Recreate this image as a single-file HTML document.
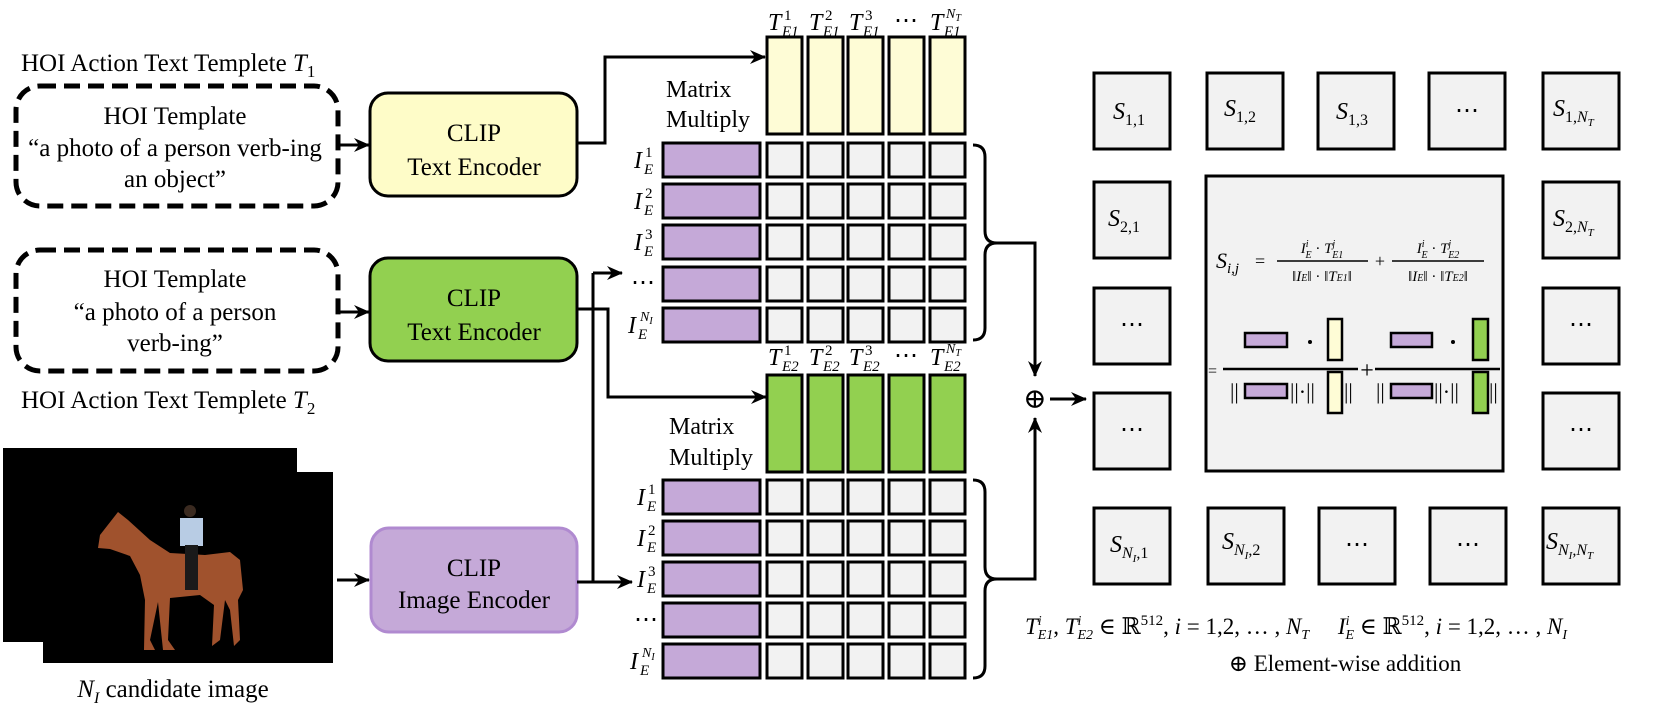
<!DOCTYPE html>
<html><head><meta charset="utf-8"><style>
html,body{margin:0;padding:0;background:#fff;}
svg{display:block;}
text{font-family:"Liberation Serif","DejaVu Serif",serif;fill:#000;}
.i{font-style:italic;}
</style></head><body>
<svg width="1659" height="706" viewBox="0 0 1659 706" xmlns="http://www.w3.org/2000/svg">
<defs>
<marker id="ah" markerWidth="16" markerHeight="14" refX="15" refY="7" orient="auto" markerUnits="userSpaceOnUse">
<path d="M0,0 L16,7 L0,14 L5,7 Z" fill="#000"/>
</marker>
</defs>

<!-- Left text templates -->
<text x="21" y="71" font-size="25">HOI  Action Text Templete <tspan class="i">T</tspan><tspan font-size="17" dy="6">1</tspan></text>
<rect x="16" y="86" width="322" height="120" rx="24" fill="#fff" stroke="#000" stroke-width="5" stroke-dasharray="16,8"/>
<text x="175" y="124" font-size="25" text-anchor="middle">HOI Template</text>
<text x="175" y="156" font-size="25" text-anchor="middle">“a photo of a person verb-ing</text>
<text x="175" y="187" font-size="25" text-anchor="middle">an object”</text>

<rect x="16" y="250" width="322" height="121" rx="24" fill="#fff" stroke="#000" stroke-width="5" stroke-dasharray="16,8"/>
<text x="175" y="287" font-size="25" text-anchor="middle">HOI Template</text>
<text x="175" y="320" font-size="25" text-anchor="middle">“a photo of a person</text>
<text x="175" y="351" font-size="25" text-anchor="middle">verb-ing”</text>
<text x="21" y="408" font-size="25">HOI  Action Text Templete <tspan class="i">T</tspan><tspan font-size="17" dy="6">2</tspan></text>

<!-- Encoders -->
<rect x="370" y="93" width="207" height="103" rx="18" fill="#fefcc8" stroke="#000" stroke-width="3"/>
<text x="474" y="141" font-size="25" text-anchor="middle">CLIP</text>
<text x="474" y="175" font-size="25" text-anchor="middle">Text Encoder</text>
<rect x="370" y="258" width="207" height="103" rx="18" fill="#92d050" stroke="#000" stroke-width="3"/>
<text x="474" y="306" font-size="25" text-anchor="middle">CLIP</text>
<text x="474" y="340" font-size="25" text-anchor="middle">Text Encoder</text>
<rect x="371" y="528" width="206" height="104" rx="18" fill="#c5a9d8" stroke="#b08ad0" stroke-width="3"/>
<text x="474" y="576" font-size="25" text-anchor="middle">CLIP</text>
<text x="474" y="608" font-size="25" text-anchor="middle">Image Encoder</text>

<!-- arrows into encoders -->
<g stroke="#000" stroke-width="3" fill="none">
<line x1="340" y1="145" x2="369" y2="145" marker-end="url(#ah)"/>
<line x1="340" y1="312" x2="369" y2="312" marker-end="url(#ah)"/>
<line x1="337" y1="580" x2="369" y2="580" marker-end="url(#ah)"/>
<path d="M577,143 H605 V57 H765" marker-end="url(#ah)"/>
<path d="M577,309 H608 V397 H766" marker-end="url(#ah)"/>
<path d="M593,273 V582"/>
<path d="M593,273 H622" marker-end="url(#ah)"/>
<path d="M577,582 H632" marker-end="url(#ah)"/>
</g>

<!-- image -->
<rect x="3" y="448" width="294" height="194" fill="#000"/>
<rect x="43" y="472" width="290" height="191" fill="#000"/>
<path d="M118,512 L128,520 L150,540 L170,553 L205,555 L230,552 L240,560 L243,590 L238,600 L240,640 L234,646 L230,610 L225,600 L220,640 L212,646 L214,605 L200,595 L170,598 L168,640 L175,650 L163,650 L158,602 L150,640 L155,650 L144,650 L145,600 L140,575 L130,556 L110,549 L98,548 L100,535 Z" fill="#a0522d"/>
<rect x="180" y="518" width="23" height="28" fill="#b8cce4"/>
<circle cx="190" cy="511" r="6" fill="#3a2a20"/>
<rect x="185" y="545" width="13" height="45" fill="#1a1a1a"/>
<text x="173" y="697" font-size="25" text-anchor="middle"><tspan class="i">N</tspan><tspan class="i" font-size="16" dy="6">I</tspan><tspan dy="-6"> candidate image</tspan></text>

<!-- Matrix 1 -->
<g stroke="#000" stroke-width="3">
<rect x="767" y="37" width="35" height="97" fill="#fefcd6"/>
<rect x="808" y="37" width="35" height="97" fill="#fefcd6"/>
<rect x="848" y="37" width="35" height="97" fill="#fefcd6"/>
<rect x="889" y="37" width="35" height="97" fill="#fefcd6"/>
<rect x="930" y="37" width="35" height="97" fill="#fefcd6"/>
</g>
<g stroke="#000" stroke-width="3" fill="#f2f2f2">
<rect x="663" y="143" width="97" height="34" fill="#c5a9d8"/><rect x="767" y="143" width="35" height="34"/><rect x="808" y="143" width="35" height="34"/><rect x="848" y="143" width="35" height="34"/><rect x="889" y="143" width="35" height="34"/><rect x="930" y="143" width="35" height="34"/>
<rect x="663" y="184" width="97" height="34" fill="#c5a9d8"/><rect x="767" y="184" width="35" height="34"/><rect x="808" y="184" width="35" height="34"/><rect x="848" y="184" width="35" height="34"/><rect x="889" y="184" width="35" height="34"/><rect x="930" y="184" width="35" height="34"/>
<rect x="663" y="225" width="97" height="34" fill="#c5a9d8"/><rect x="767" y="225" width="35" height="34"/><rect x="808" y="225" width="35" height="34"/><rect x="848" y="225" width="35" height="34"/><rect x="889" y="225" width="35" height="34"/><rect x="930" y="225" width="35" height="34"/>
<rect x="663" y="267" width="97" height="34" fill="#c5a9d8"/><rect x="767" y="267" width="35" height="34"/><rect x="808" y="267" width="35" height="34"/><rect x="848" y="267" width="35" height="34"/><rect x="889" y="267" width="35" height="34"/><rect x="930" y="267" width="35" height="34"/>
<rect x="663" y="308" width="97" height="34" fill="#c5a9d8"/><rect x="767" y="308" width="35" height="34"/><rect x="808" y="308" width="35" height="34"/><rect x="848" y="308" width="35" height="34"/><rect x="889" y="308" width="35" height="34"/><rect x="930" y="308" width="35" height="34"/>
</g>
<text x="666" y="97" font-size="24">Matrix</text>
<text x="666" y="127" font-size="24">Multiply</text>
<!-- T_E1 labels -->
<g font-size="24">
<text x="768" y="30" class="i">T</text><text x="784" y="20" font-size="15">1</text><text x="782" y="36" font-size="15" class="i">E1</text>
<text x="809" y="30" class="i">T</text><text x="825" y="20" font-size="15">2</text><text x="823" y="36" font-size="15" class="i">E1</text>
<text x="849" y="30" class="i">T</text><text x="865" y="20" font-size="15">3</text><text x="863" y="36" font-size="15" class="i">E1</text>
<text x="906" y="28" text-anchor="middle">⋯</text>
<text x="930" y="30" class="i">T</text><text x="946" y="18" font-size="14" class="i">N<tspan font-size="10" dy="3">T</tspan></text><text x="944" y="36" font-size="15" class="i">E1</text>
</g>
<!-- I labels top -->
<g font-size="24">
<text x="634" y="168" class="i">I</text><text x="645" y="157" font-size="15">1</text><text x="644" y="174" font-size="15" class="i">E</text>
<text x="634" y="209" class="i">I</text><text x="645" y="198" font-size="15">2</text><text x="644" y="215" font-size="15" class="i">E</text>
<text x="634" y="250" class="i">I</text><text x="645" y="239" font-size="15">3</text><text x="644" y="256" font-size="15" class="i">E</text>
<text x="631" y="290">⋯</text>
<text x="628" y="333" class="i">I</text><text x="640" y="321" font-size="14" class="i">N<tspan font-size="10" dy="3">I</tspan></text><text x="638" y="339" font-size="15" class="i">E</text>
</g>

<!-- Matrix 2 -->
<g stroke="#000" stroke-width="3" fill="#92d050">
<rect x="767" y="375" width="35" height="97"/><rect x="808" y="375" width="35" height="97"/><rect x="848" y="375" width="35" height="97"/><rect x="889" y="375" width="35" height="97"/><rect x="930" y="375" width="35" height="97"/>
</g>
<g stroke="#000" stroke-width="3" fill="#f2f2f2">
<rect x="663" y="480" width="97" height="34" fill="#c5a9d8"/><rect x="767" y="480" width="35" height="34"/><rect x="808" y="480" width="35" height="34"/><rect x="848" y="480" width="35" height="34"/><rect x="889" y="480" width="35" height="34"/><rect x="930" y="480" width="35" height="34"/>
<rect x="663" y="521" width="97" height="34" fill="#c5a9d8"/><rect x="767" y="521" width="35" height="34"/><rect x="808" y="521" width="35" height="34"/><rect x="848" y="521" width="35" height="34"/><rect x="889" y="521" width="35" height="34"/><rect x="930" y="521" width="35" height="34"/>
<rect x="663" y="562" width="97" height="34" fill="#c5a9d8"/><rect x="767" y="562" width="35" height="34"/><rect x="808" y="562" width="35" height="34"/><rect x="848" y="562" width="35" height="34"/><rect x="889" y="562" width="35" height="34"/><rect x="930" y="562" width="35" height="34"/>
<rect x="663" y="603" width="97" height="34" fill="#c5a9d8"/><rect x="767" y="603" width="35" height="34"/><rect x="808" y="603" width="35" height="34"/><rect x="848" y="603" width="35" height="34"/><rect x="889" y="603" width="35" height="34"/><rect x="930" y="603" width="35" height="34"/>
<rect x="663" y="644" width="97" height="34" fill="#c5a9d8"/><rect x="767" y="644" width="35" height="34"/><rect x="808" y="644" width="35" height="34"/><rect x="848" y="644" width="35" height="34"/><rect x="889" y="644" width="35" height="34"/><rect x="930" y="644" width="35" height="34"/>
</g>
<text x="669" y="434" font-size="24">Matrix</text>
<text x="669" y="465" font-size="24">Multiply</text>
<g font-size="24">
<text x="768" y="365" class="i">T</text><text x="784" y="355" font-size="15">1</text><text x="782" y="371" font-size="15" class="i">E2</text>
<text x="809" y="365" class="i">T</text><text x="825" y="355" font-size="15">2</text><text x="823" y="371" font-size="15" class="i">E2</text>
<text x="849" y="365" class="i">T</text><text x="865" y="355" font-size="15">3</text><text x="863" y="371" font-size="15" class="i">E2</text>
<text x="906" y="363" text-anchor="middle">⋯</text>
<text x="930" y="365" class="i">T</text><text x="946" y="353" font-size="14" class="i">N<tspan font-size="10" dy="3">T</tspan></text><text x="944" y="371" font-size="15" class="i">E2</text>
</g>
<g font-size="24">
<text x="637" y="505" class="i">I</text><text x="648" y="494" font-size="15">1</text><text x="647" y="511" font-size="15" class="i">E</text>
<text x="637" y="546" class="i">I</text><text x="648" y="535" font-size="15">2</text><text x="647" y="552" font-size="15" class="i">E</text>
<text x="637" y="587" class="i">I</text><text x="648" y="576" font-size="15">3</text><text x="647" y="593" font-size="15" class="i">E</text>
<text x="634" y="627">⋯</text>
<text x="630" y="669" class="i">I</text><text x="642" y="657" font-size="14" class="i">N<tspan font-size="10" dy="3">I</tspan></text><text x="640" y="675" font-size="15" class="i">E</text>
</g>

<!-- braces and sum -->
<g stroke="#000" stroke-width="3" fill="none">
<path d="M973,145 Q985,145 985,157 V231 Q985,243 997,243 Q985,243 985,255 V328 Q985,340 973,340"/>
<path d="M997,243 H1035 V376" marker-end="url(#ah)"/>
<path d="M973,480 Q985,480 985,492 V567 Q985,579 997,579 Q985,579 985,591 V666 Q985,678 973,678"/>
<path d="M997,579 H1035 V418" marker-end="url(#ah)"/>
<path d="M1050,399 H1086" marker-end="url(#ah)"/>
</g>
<text x="1035" y="408" font-size="28" text-anchor="middle">⊕</text>

<!-- S grid -->
<g stroke="#000" stroke-width="3" fill="#f2f2f2">
<rect x="1094" y="73" width="76" height="76"/><rect x="1207" y="73" width="76" height="76"/><rect x="1318" y="73" width="76" height="76"/><rect x="1429" y="73" width="76" height="76"/><rect x="1543" y="73" width="76" height="76"/>
<rect x="1094" y="182" width="76" height="76"/><rect x="1543" y="182" width="76" height="76"/>
<rect x="1094" y="288" width="76" height="76"/><rect x="1543" y="288" width="76" height="76"/>
<rect x="1094" y="393" width="76" height="76"/><rect x="1543" y="393" width="76" height="76"/>
<rect x="1094" y="508" width="76" height="76"/><rect x="1208" y="508" width="76" height="76"/><rect x="1319" y="508" width="76" height="76"/><rect x="1430" y="508" width="76" height="76"/><rect x="1543" y="508" width="76" height="76"/>
<rect x="1206" y="176" width="297" height="295"/>
</g>
<g font-size="24">
<text x="1113" y="119" class="i">S<tspan font-size="16" dy="6" font-style="normal">1,1</tspan></text>
<text x="1224" y="116" class="i">S<tspan font-size="16" dy="6" font-style="normal">1,2</tspan></text>
<text x="1336" y="119" class="i">S<tspan font-size="16" dy="6" font-style="normal">1,3</tspan></text>
<text x="1467" y="118" text-anchor="middle">⋯</text>
<text x="1553" y="116" class="i">S<tspan font-size="16" dy="6" font-style="normal">1,</tspan><tspan font-size="16">N</tspan><tspan font-size="11" dy="4">T</tspan></text>
<text x="1108" y="226" class="i">S<tspan font-size="16" dy="6" font-style="normal">2,1</tspan></text>
<text x="1553" y="226" class="i">S<tspan font-size="16" dy="6" font-style="normal">2,</tspan><tspan font-size="16">N</tspan><tspan font-size="11" dy="4">T</tspan></text>
<text x="1132" y="332" text-anchor="middle">⋯</text><text x="1581" y="332" text-anchor="middle">⋯</text>
<text x="1132" y="437" text-anchor="middle">⋯</text><text x="1581" y="437" text-anchor="middle">⋯</text>
<text x="1110" y="552" class="i">S<tspan font-size="16" dy="6">N</tspan><tspan font-size="11" dy="4">I</tspan><tspan font-size="16" dy="-4" font-style="normal">,1</tspan></text>
<text x="1222" y="549" class="i">S<tspan font-size="16" dy="6">N</tspan><tspan font-size="11" dy="4">I</tspan><tspan font-size="16" dy="-4" font-style="normal">,2</tspan></text>
<text x="1357" y="552" text-anchor="middle">⋯</text><text x="1468" y="552" text-anchor="middle">⋯</text>
<text x="1546" y="549" class="i">S<tspan font-size="16" dy="6">N</tspan><tspan font-size="11" dy="4">I</tspan><tspan font-size="16" dy="-4">,N</tspan><tspan font-size="11" dy="4">T</tspan></text>
</g>

<!-- formula -->
<g font-size="22">
<text x="1216" y="268" class="i">S<tspan font-size="15" dy="5">i,j</tspan></text>
<text x="1255" y="267" font-size="18">=</text>
<line x1="1277" y1="261" x2="1368" y2="261" stroke="#000" stroke-width="1.5"/>
<text x="1322" y="253" font-size="15" text-anchor="middle" class="i">I<tspan font-size="10" dy="-6">i</tspan><tspan font-size="10" dx="-3" dy="11">E</tspan><tspan dy="-5" font-style="normal"> · </tspan>T<tspan font-size="10" dy="-6">j</tspan><tspan font-size="10" dx="-3" dy="11">E1</tspan></text>
<text x="1322" y="281" font-size="15" text-anchor="middle">‖<tspan class="i">I</tspan><tspan font-size="10" class="i">E</tspan>‖ · ‖<tspan class="i">T</tspan><tspan font-size="10" class="i">E1</tspan>‖</text>
<text x="1380" y="267" font-size="18" text-anchor="middle">+</text>
<line x1="1392" y1="261" x2="1484" y2="261" stroke="#000" stroke-width="1.5"/>
<text x="1438" y="253" font-size="15" text-anchor="middle" class="i">I<tspan font-size="10" dy="-6">i</tspan><tspan font-size="10" dx="-3" dy="11">E</tspan><tspan dy="-5" font-style="normal"> · </tspan>T<tspan font-size="10" dy="-6">j</tspan><tspan font-size="10" dx="-3" dy="11">E2</tspan></text>
<text x="1438" y="281" font-size="15" text-anchor="middle">‖<tspan class="i">I</tspan><tspan font-size="10" class="i">E</tspan>‖ · ‖<tspan class="i">T</tspan><tspan font-size="10" class="i">E2</tspan>‖</text>
</g>
<g stroke="#000" stroke-width="2.5">
<line x1="1223" y1="369" x2="1358" y2="369"/>
<line x1="1375" y1="369" x2="1500" y2="369"/>
<rect x="1245" y="333" width="42" height="14" fill="#c5a9d8"/>
<rect x="1328" y="319" width="14" height="41" fill="#fefcd6"/>
<rect x="1245" y="384" width="42" height="14" fill="#c5a9d8"/>
<rect x="1328" y="372" width="14" height="41" fill="#fefcd6"/>
<rect x="1391" y="333" width="41" height="14" fill="#c5a9d8"/>
<rect x="1473" y="319" width="15" height="41" fill="#92d050"/>
<rect x="1391" y="384" width="41" height="14" fill="#c5a9d8"/>
<rect x="1473" y="372" width="15" height="41" fill="#92d050"/>
</g>
<text x="1208" y="376" font-size="16">=</text>
<text x="1367" y="378" font-size="24" text-anchor="middle">+</text>
<circle cx="1310" cy="342" r="2" fill="#000"/><circle cx="1453" cy="342" r="2" fill="#000"/>
<g font-size="22">
<text x="1230" y="399">||</text><text x="1290" y="399">||·||</text><text x="1344" y="399">||</text>
<text x="1376" y="399">||</text><text x="1434" y="399">||·||</text><text x="1489" y="399">||</text>
</g>

<!-- bottom notes -->
<text x="1025" y="634" font-size="23"><tspan class="i">T</tspan><tspan font-size="14" dy="-9" class="i">i</tspan><tspan font-size="14" dx="-4" dy="14" class="i">E1</tspan><tspan dy="-5">, </tspan><tspan class="i">T</tspan><tspan font-size="14" dy="-9" class="i">i</tspan><tspan font-size="14" dx="-4" dy="14" class="i">E2</tspan><tspan dy="-5"> ∈ ℝ</tspan><tspan font-size="15" dy="-9">512</tspan><tspan dy="9">, </tspan><tspan class="i">i</tspan> = 1,2, … , <tspan class="i">N</tspan><tspan font-size="14" dy="5" class="i">T</tspan><tspan dy="-5" xml:space="preserve">     </tspan><tspan class="i">I</tspan><tspan font-size="14" dy="-9" class="i">i</tspan><tspan font-size="14" dx="-4" dy="14" class="i">E</tspan><tspan dy="-5">  ∈ ℝ</tspan><tspan font-size="15" dy="-9">512</tspan><tspan dy="9">, </tspan><tspan class="i">i</tspan> = 1,2, … , <tspan class="i">N</tspan><tspan font-size="14" dy="5" class="i">I</tspan></text>
<text x="1345" y="671" font-size="23" text-anchor="middle">⊕ Element-wise addition</text>
</svg>
</body></html>
